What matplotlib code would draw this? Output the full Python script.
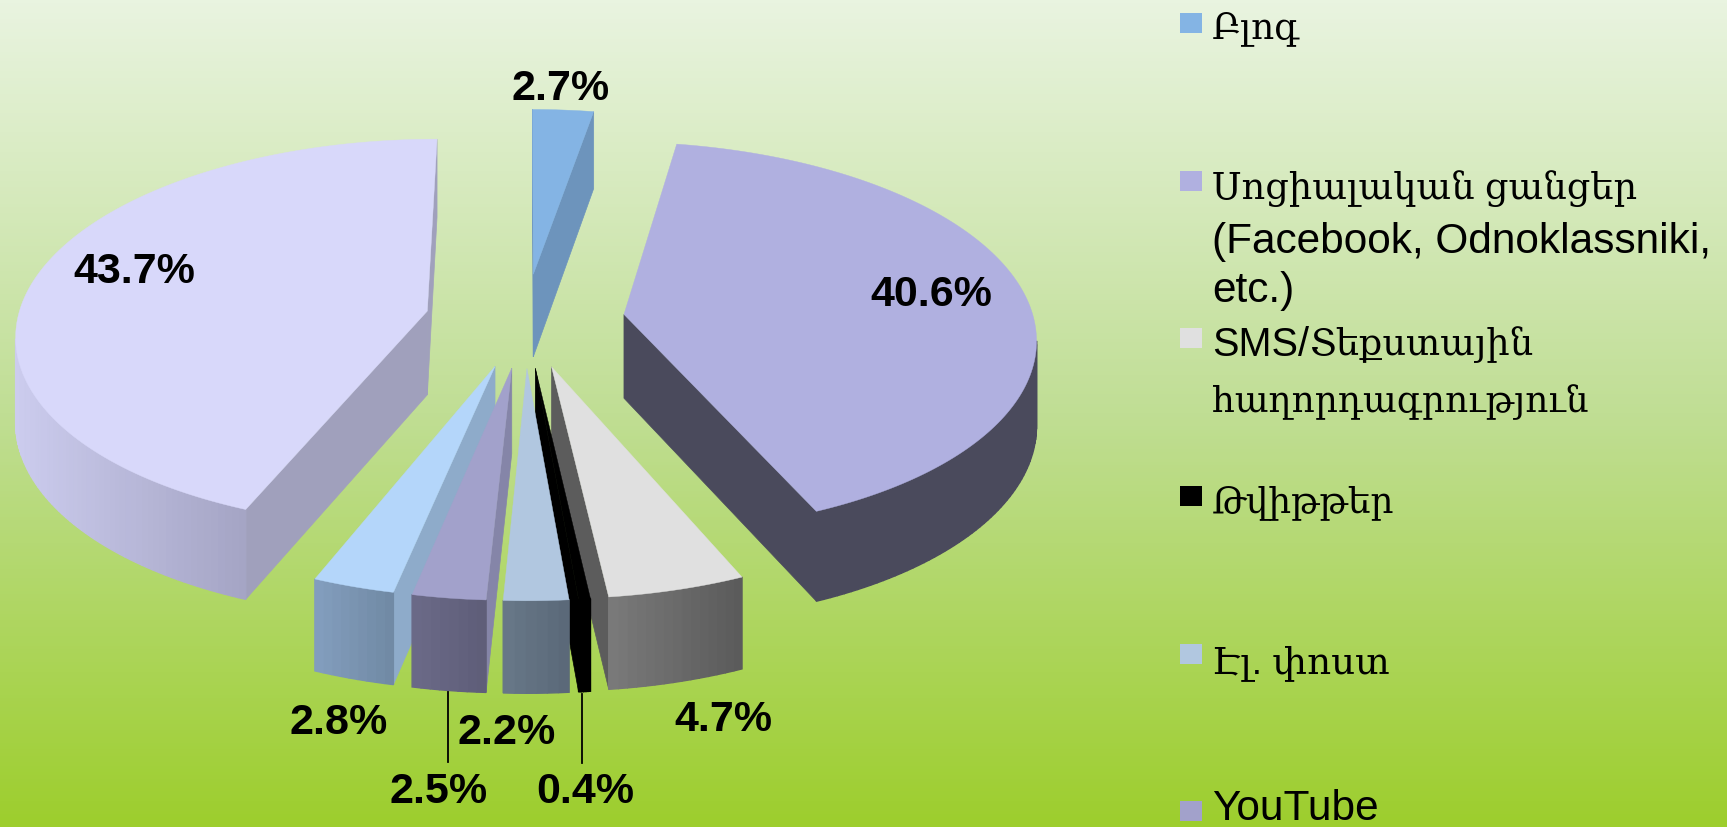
import numpy as np
import matplotlib
matplotlib.use('Agg')
import matplotlib.pyplot as plt
from matplotlib.colors import LinearSegmentedColormap, to_rgb

# slices, clockwise from the top
values = [2.7, 40.6, 4.7, 0.4, 2.2, 2.5, 2.8, 43.7]
top_colors = ['#84B4E4', '#B0B0E0', '#E0E0E0', '#000000', '#B1C7E0', '#A2A1CB', '#B4D6FA', '#D8D8FA']
side_colors = ['#6D94BC', '#4A4A5C', '#5C5C5C', '#000000', '#8C9FB4', '#8585A8', '#8EABCA', '#A0A0BC']
outer_left = ['#6D94BC', '#4A4A5C', '#7A7A7A', '#000000', '#687888', '#6B6A88', '#839EBE', '#CCCCEE']
outer_right = ['#6D94BC', '#4A4A5C', '#5A5A5A', '#000000', '#5A6878', '#5E5D78', '#7089A4', '#A4A4C4']

pct_labels = ['2.7%', '40.6%', '4.7%', '0.4%', '2.2%', '2.5%', '2.8%', '43.7%']
label_x = [561, 931, 723, 585, 507, 439, 339, 134]
label_y = [89, 295, 720, 792, 733, 792, 723, 272]

legend_colors = ['#84B4E4', '#B0B0E0', '#E0E0E0', '#000000', '#B1C7E0', '#A2A1CB']
legend_y = [23, 181, 338, 496, 654, 811]
legend_lines = ['Բլոգ', 'Սոցիալական ցանցեր', '(Facebook, Odnoklassniki,', 'etc.)',
                'SMS/', 'Տեքստային', 'հաղորդագրություն', 'Թվիթթեր', 'Էլ. փոստ', 'YouTube']
legend_line_x = [1212, 1212, 1212, 1212, 1212, 1310, 1212, 1212, 1212, 1212]
legend_line_y = [30, 189, 242, 291, 345, 345, 402, 503, 663, 809]
legend_sizes = [25.8, 26.5, 30.5, 30.5, 28.5, 26.5, 25.8, 25.8, 26.8, 30.5]

# projection of the pie
cx, cy = 525, 320
radius, explode = 410, 100
tilt, persp, persp_y, persp_z, depth = 0.472, 0.00027, 0.00028, 0.00018, 84


def proj(u, v, z=0.0):
    s = 1.0 / (1.0 - persp * v)
    sy = 1.0 / (1.0 - persp_y * v)
    sz = 1.0 / (1.0 - persp_z * v)
    return cx + u * s, cy + tilt * v * sy + depth * z * sz


def area(xs, ys):
    return 0.5 * np.sum(xs * np.roll(ys, -1) - np.roll(xs, -1) * ys)


def mix(c1, c2, t):
    a, b = np.array(to_rgb(c1)), np.array(to_rgb(c2))
    return tuple(a + (b - a) * t)


def draw_slice(ax, t0, t1, i):
    tm = 0.5 * (t0 + t1)
    au, av = explode * np.sin(tm), -explode * np.cos(tm)
    th = np.linspace(t0, t1, max(int(np.degrees(t1 - t0)), 6))
    u = au + radius * np.sin(th)
    v = av - radius * np.cos(th)

    tx, ty = proj(u, v)
    bx, by = proj(u, v, 1.0)
    apx, apy = proj(au, av)
    abx, aby = proj(au, av, 1.0)

    # radial walls
    for k in [0, -1]:
        if k == 0:
            xs = np.array([apx, tx[0], bx[0], abx])
            ys = np.array([apy, ty[0], by[0], aby])
        else:
            xs = np.array([tx[-1], apx, abx, bx[-1]])
            ys = np.array([ty[-1], apy, aby, by[-1]])
        if area(xs, ys) < 0:
            ax.fill(xs, ys, color=side_colors[i], lw=0.5, zorder=2)

    # outer wall, split up for the shading
    quads = []
    for j in range(len(th) - 1):
        xs = np.array([tx[j], tx[j + 1], bx[j + 1], bx[j]])
        ys = np.array([ty[j], ty[j + 1], by[j + 1], by[j]])
        if area(xs, ys) < 0:
            quads.append((xs, ys))
    if quads:
        lo = min(q[0].min() for q in quads)
        hi = max(q[0].max() for q in quads)
        for xs, ys in quads:
            f = (xs.mean() - lo) / max(hi - lo, 1)
            ax.fill(xs, ys, color=mix(outer_left[i], outer_right[i], f), lw=1, zorder=2)

    ax.fill(np.r_[apx, tx], np.r_[apy, ty], color=top_colors[i], lw=0.3, zorder=2)


fig = plt.figure(figsize=(17.27, 8.27), dpi=100)
ax = fig.add_axes([0, 0, 1, 1])
ax.set_xlim(0, 1727)
ax.set_ylim(827, 0)
ax.axis('off')

bg = LinearSegmentedColormap.from_list('bg', ['#E9F4E0', '#C0DE94', '#9DCE2D'])
ax.imshow(np.linspace(0, 1, 256).reshape(-1, 1), cmap=bg, aspect='auto',
          extent=[0, 1727, 827, 0], zorder=0)

angles = np.r_[0, np.cumsum(values)] / np.sum(values) * 2 * np.pi
mids = 0.5 * (angles[:-1] + angles[1:])
for i in np.argsort(-np.cos(mids)):
    draw_slice(ax, angles[i], angles[i + 1], i)

# leader lines
ax.plot([448, 448], [692, 762], color='black', lw=1.3, zorder=3)
ax.plot([582, 582], [694, 763], color='black', lw=1.3, zorder=3)

for x, y, s in zip(label_x, label_y, pct_labels):
    ax.text(x, y, s, ha='center', va='center', fontsize=31, fontweight='bold',
            family='Liberation Sans', color='black', zorder=4)

for y, c in zip(legend_y, legend_colors):
    ax.fill([1180, 1202, 1202, 1180], [y - 10, y - 10, y + 10, y + 10], color=c, lw=0, zorder=3)

for x, y, s, fs in zip(legend_line_x, legend_line_y, legend_lines, legend_sizes):
    ax.text(x, y, s, ha='left', va='center', fontsize=fs,
            family=['Liberation Sans', 'DejaVu Serif'], color='black', zorder=4)

fig.savefig('out.png', dpi=100)
